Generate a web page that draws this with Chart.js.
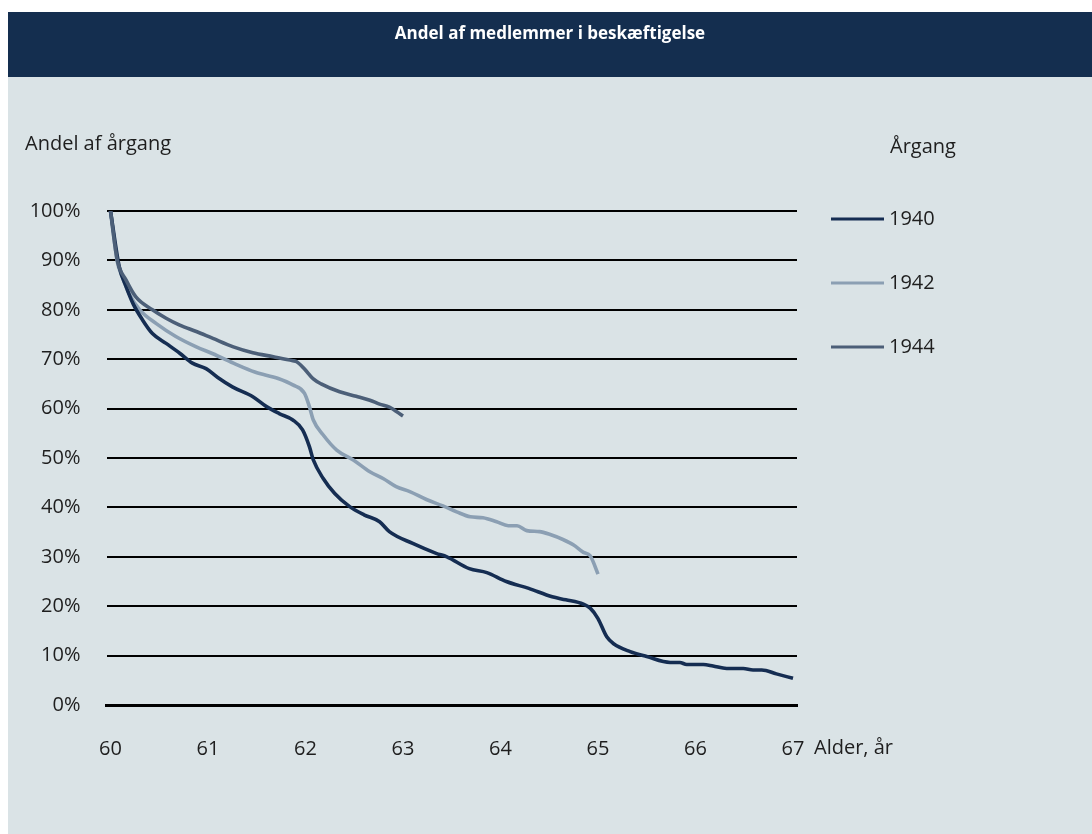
<!DOCTYPE html>
<html>
<head>
<meta charset="utf-8">
<script src="https://cdn.jsdelivr.net/npm/chart.js@4.4.0/dist/chart.umd.min.js"></script>
<style>
  html, body { margin: 0; padding: 0; background: #ffffff; }
  #wrap { position: relative; width: 1092px; height: 834px; }
</style>
</head>
<body>
<div id="wrap"><canvas id="c"></canvas></div>
<script>
// ---- Data ----
const chartTitle = "Andel af medlemmer i beskæftigelse";
const yAxisTitle = "Andel af årgang";
const xAxisTitle = "Alder, år";
const legendTitle = "Årgang";
const xTicks = [60, 61, 62, 63, 64, 65, 66, 67];
const yTicks = [0, 10, 20, 30, 40, 50, 60, 70, 80, 90, 100];

const seriesNames = ["1940", "1942", "1944"];

const age1940 = [60.00, 60.09, 60.16, 60.23, 60.33, 60.43, 60.57, 60.71, 60.84, 60.98,
  61.10, 61.25, 61.46, 61.60, 61.73, 61.87, 61.97, 62.04, 62.08, 62.18, 62.30, 62.45,
  62.60, 62.76, 62.86, 63.10, 63.34, 63.45, 63.68, 63.86, 64.06, 64.29, 64.53, 64.67,
  64.85, 64.92, 65.00, 65.09, 65.16, 65.33, 65.50, 65.74, 65.84, 65.91, 66.08, 66.18,
  66.32, 66.49, 66.59, 66.68, 66.83, 67.00];
const val1940 = [100, 88.7, 84.7, 81.3, 77.9, 75.2, 73.2, 71.2, 69.2, 68.1,
  66.3, 64.4, 62.4, 60.4, 59.0, 57.7, 55.7, 52.3, 49.6, 45.9, 42.8, 40.2,
  38.5, 37.1, 35.1, 32.7, 30.7, 30.0, 27.6, 26.8, 25.0, 23.6, 21.9, 21.3,
  20.4, 19.6, 17.5, 13.8, 12.4, 10.8, 9.8, 8.6, 8.6, 8.2, 8.2, 7.9,
  7.4, 7.4, 7.1, 7.1, 6.3, 5.4];

const age1942 = [60.00, 60.07, 60.12, 60.19, 60.30, 60.47, 60.67, 60.88, 61.05, 61.26,
  61.48, 61.72, 61.87, 61.99, 62.04, 62.08, 62.18, 62.32, 62.49, 62.66, 62.80, 62.93,
  63.07, 63.24, 63.41, 63.55, 63.69, 63.82, 63.96, 64.08, 64.17, 64.27, 64.40, 64.51,
  64.64, 64.75, 64.85, 64.92, 65.00];
const val1942 = [100, 89.7, 86.7, 83.3, 80.0, 77.2, 74.6, 72.5, 71.1, 69.2,
  67.4, 66.1, 64.8, 63.1, 60.4, 57.7, 54.7, 51.6, 49.6, 47.2, 45.8, 44.2,
  43.2, 41.6, 40.3, 39.1, 38.1, 37.9, 37.1, 36.3, 36.3, 35.3, 35.1, 34.5,
  33.5, 32.4, 30.9, 30.2, 26.5];

const age1944 = [60.00, 60.07, 60.16, 60.26, 60.43, 60.57, 60.71, 60.88, 61.05, 61.26,
  61.46, 61.67, 61.87, 61.91, 61.99, 62.08, 62.16, 62.35, 62.52, 62.66, 62.76, 62.86,
  63.00];
const val1944 = [100, 90.0, 86.0, 82.6, 80.0, 78.3, 76.9, 75.6, 74.2, 72.5,
  71.3, 70.5, 69.7, 69.5, 68.0, 66.0, 65.0, 63.4, 62.5, 61.7, 60.9, 60.3,
  58.5];

const seriesColors = ["#152d52", "#8b9fb3", "#4c5f78"];

// ---- Build datasets ----
function pts(xs, ys) { return xs.map((x, i) => ({ x: x, y: ys[i] })); }
const ages = [age1940, age1942, age1944];
const vals = [val1940, val1942, val1944];
const drawOrder = [1, 2, 0]; // 1944 drawn on top
const datasets = seriesNames.map((name, i) => ({
  label: name,
  data: pts(ages[i], vals[i]),
  borderColor: seriesColors[i],
  backgroundColor: seriesColors[i],
  borderWidth: 3.6,
  pointRadius: 0,
  cubicInterpolationMode: 'monotone',
  fill: false,
  order: drawOrder[i]
}));

const FONT = "'Open Sans', 'DejaVu Sans', sans-serif";
const TEXT = "#1e1e1e";

const decor = {
  id: 'decor',
  beforeDraw(chart) {
    const ctx = chart.ctx;
    ctx.save();
    ctx.fillStyle = '#ffffff';
    ctx.fillRect(0, 0, chart.width, chart.height);
    ctx.fillStyle = '#142e4f';
    ctx.fillRect(8, 12, chart.width - 8, 65);
    ctx.fillStyle = '#dae3e6';
    ctx.fillRect(8, 77, chart.width - 8, chart.height - 77);
    ctx.restore();
  },
  afterDraw(chart) {
    const ctx = chart.ctx;
    const xs = chart.scales.x;
    ctx.save();
    // header title
    ctx.fillStyle = '#ffffff';
    ctx.font = "bold 17px " + FONT;
    ctx.textAlign = 'center';
    ctx.textBaseline = 'middle';
    ctx.fillText(chartTitle, 550, 34);
    // axis titles
    ctx.fillStyle = TEXT;
    ctx.font = "20px " + FONT;
    ctx.textAlign = 'left';
    ctx.fillText(yAxisTitle, 25, 144);
    ctx.fillText(xAxisTitle, xs.right + 17, 748);
    ctx.fillText(legendTitle, 890, 147);
    // legend
    chart.data.datasets.forEach((ds, i) => {
      const y = 219 + i * 64;
      ctx.strokeStyle = ds.borderColor;
      ctx.lineWidth = 3;
      ctx.beginPath();
      ctx.moveTo(831, y);
      ctx.lineTo(884, y);
      ctx.stroke();
      ctx.fillStyle = TEXT;
      ctx.fillText(ds.label, 889, y);
    });
    ctx.restore();
  }
};

new Chart(document.getElementById('c'), {
  type: 'line',
  data: { datasets: datasets },
  options: {
    responsive: true,
    maintainAspectRatio: false,
    animation: false,
    layout: { padding: { left: 0, top: 211, right: 295, bottom: 0 } },
    plugins: { legend: { display: false }, tooltip: { enabled: false }, title: { display: false } },
    scales: {
      x: {
        type: 'linear',
        min: 60 - 4 / 97.4,
        max: 67 + 4 / 97.4,
        afterBuildTicks(scale) { scale.ticks = xTicks.map(v => ({ value: v })); },
        afterFit(scale) { scale.height = 129; },
        grid: { display: false, drawTicks: false },
        border: { display: true, color: '#000000', width: 3 },
        ticks: {
          color: TEXT,
          font: { family: FONT, size: 20 },
          padding: 32,
          maxRotation: 0,
          autoSkip: false,
          callback: (v) => String(v)
        }
      },
      y: {
        min: 0,
        max: 100,
        afterBuildTicks(scale) { scale.ticks = yTicks.map(v => ({ value: v })); },
        afterFit(scale) { scale.width = 106.5; },
        grid: { color: '#000000', lineWidth: 2, drawTicks: false },
        border: { display: false },
        ticks: {
          color: TEXT,
          font: { family: FONT, size: 20 },
          padding: 26,
          callback: (v) => v + '%'
        }
      }
    }
  },
  plugins: [decor]
});
</script>
</body>
</html>
